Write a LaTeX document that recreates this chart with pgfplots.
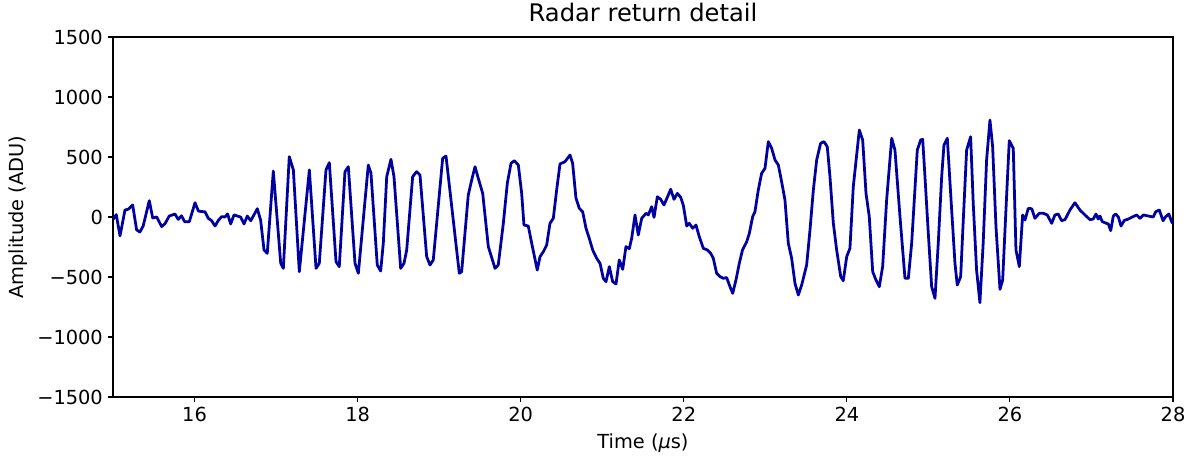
\documentclass[border=0pt]{standalone}
\usepackage{fontspec}
\setmainfont{DejaVu Sans}
\usepackage{pgfplots}
\pgfplotsset{compat=1.18}
\definecolor{sig}{RGB}{0,0,160}
\begin{document}
\begin{tikzpicture}[font=\fontsize{14}{17}\selectfont]
\useasboundingbox (0,0) rectangle (11.93in,4.56in);
\begin{axis}[
  at={(1.13in,0.59in)}, anchor=south west,
  width=10.60in, height=3.60in, scale only axis,
  xmin=15, xmax=28, ymin=-1500, ymax=1500,
  xtick={16,18,20,22,24,26,28},
  xticklabels={16,18,20,22,24,26,28},
  ytick={-1500,-1000,-500,0,500,1000,1500},
  yticklabels={−1500,−1000,−500,0,500,1000,1500},
  tick pos=left, tick align=outside,
  major tick length=0.049in,
  tick style={black, line width=0.8pt},
  axis line style={black, line width=0.8pt},
  xticklabel style={inner sep=0pt, yshift=-0.05in},
  yticklabel style={inner sep=0pt, xshift=-0.05in},
  title={Radar return detail},
  title style={at={(axis description cs:0.5,1.02)}, anchor=base, font=\fontsize{17.5}{20}\selectfont, inner sep=0pt},
  xlabel={Time (\textit{μ}s)},
  xlabel style={at={(axis description cs:0.5,-0.1417)}, anchor=base, inner sep=0pt},
  ylabel={Amplitude (ADU)},
  ylabel style={at={(axis description cs:-0.0896,0.5)}, anchor=center, inner sep=0pt},
]
\addplot[color=sig, line width=2pt, line join=round] coordinates {
(15.000,-20) (15.040,20) (15.086,-158) (15.147,58) (15.188,65) (15.241,100)
(15.290,-108) (15.330,-125) (15.370,-75) (15.445,136) (15.487,-8) (15.536,0)
(15.597,-80) (15.638,-55) (15.690,8) (15.760,25) (15.800,-20) (15.840,10)
(15.880,-40) (15.936,-39) (16.006,119) (16.047,50) (16.090,45) (16.128,44)
(16.169,-11) (16.210,-31) (16.251,-75) (16.292,-28) (16.333,3) (16.374,0)
(16.406,25) (16.443,-58) (16.484,17) (16.524,8) (16.566,0) (16.607,-58)
(16.647,8) (16.689,-31) (16.721,8) (16.770,69) (16.811,-28) (16.852,-275)
(16.892,-303) (16.966,383) (17.057,-386) (17.089,-428) (17.162,503) (17.212,392)
(17.285,-456) (17.408,392) (17.490,-428) (17.530,-386) (17.612,392) (17.653,453)
(17.735,-372) (17.775,-414) (17.845,378) (17.886,419) (17.968,-386) (18.009,-469)
(18.131,433) (18.164,364) (18.241,-400) (18.283,-450) (18.315,-219) (18.357,336)
(18.409,481) (18.446,336) (18.528,-428) (18.569,-386) (18.602,-275) (18.675,336)
(18.724,378) (18.765,350) (18.847,-331) (18.888,-400) (18.928,-358) (19.043,489)
(19.084,508) (19.247,-469) (19.276,-456) (19.357,183) (19.403,320) (19.440,419)
(19.480,322) (19.534,197) (19.603,-247) (19.685,-428) (19.725,-400) (19.787,-53)
(19.836,281) (19.881,447) (19.922,469) (19.971,433) (20.012,197) (20.040,-67)
(20.093,-75) (20.135,-219) (20.203,-442) (20.237,-331) (20.277,-290) (20.319,-233)
(20.359,-53) (20.400,-11) (20.441,225) (20.482,442) (20.543,461) (20.605,517)
(20.637,447) (20.678,156) (20.719,72) (20.760,44) (20.801,-94) (20.841,-178)
(20.883,-275) (20.932,-344) (20.973,-386) (21.013,-511) (21.046,-539) (21.087,-414)
(21.128,-539) (21.169,-558) (21.209,-358) (21.251,-436) (21.291,-247) (21.332,-264)
(21.361,-178) (21.402,17) (21.442,-150) (21.484,-11) (21.537,31) (21.565,17)
(21.607,86) (21.635,-3) (21.676,169) (21.717,147) (21.757,100) (21.798,164)
(21.840,231) (21.880,147) (21.921,197) (21.962,164) (21.994,100) (22.036,-75)
(22.068,-53) (22.110,-94) (22.150,-67) (22.190,-164) (22.240,-261) (22.289,-275)
(22.330,-303) (22.362,-344) (22.403,-469) (22.444,-497) (22.485,-511) (22.526,-505)
(22.567,-581) (22.600,-636) (22.640,-525) (22.681,-386) (22.720,-275) (22.772,-206)
(22.804,-136) (22.845,3) (22.873,44) (22.914,225) (22.955,364) (22.996,406)
(23.037,628) (23.078,572) (23.119,475) (23.160,433) (23.200,294) (23.241,142)
(23.282,-219) (23.323,-344) (23.364,-553) (23.405,-650) (23.446,-567) (23.507,-400)
(23.548,-108) (23.589,225) (23.630,475) (23.678,614) (23.719,628) (23.760,586)
(23.793,336) (23.834,-50) (23.875,-275) (23.925,-497) (23.956,-531) (23.998,-331)
(24.038,-261) (24.079,253) (24.153,725) (24.194,642) (24.235,197) (24.275,3)
(24.317,-456) (24.357,-525) (24.398,-581) (24.439,-414) (24.488,142) (24.550,656)
(24.590,558) (24.652,0) (24.713,-511) (24.754,-511) (24.795,-219) (24.864,558)
(24.905,642) (24.930,647) (24.958,336) (24.999,-136) (25.040,-581) (25.081,-678)
(25.121,-219) (25.163,336) (25.191,600) (25.232,656) (25.273,197) (25.326,-386)
(25.354,-567) (25.396,-497) (25.428,-25) (25.469,558) (25.518,669) (25.550,114)
(25.591,-442) (25.632,-714) (25.672,-219) (25.714,475) (25.755,808) (25.788,586)
(25.829,-81) (25.878,-603) (25.911,-525) (25.951,58) (25.992,636) (26.041,572)
(26.074,-275) (26.115,-414) (26.156,17) (26.185,-25) (26.225,72) (26.267,69)
(26.307,-11) (26.360,31) (26.409,31) (26.458,17) (26.512,-53) (26.552,17)
(26.593,25) (26.634,-31) (26.675,-22) (26.736,58) (26.797,119) (26.859,58)
(26.920,17) (26.982,-22) (27.022,-17) (27.055,25) (27.083,-17) (27.104,8)
(27.133,-39) (27.174,-50) (27.207,-58) (27.236,-114) (27.268,8) (27.297,25)
(27.330,0) (27.362,-75) (27.403,-28) (27.452,-17) (27.501,0) (27.555,17)
(27.595,-11) (27.636,17) (27.697,8) (27.758,0) (27.788,44) (27.832,58)
(27.878,-31) (27.907,0) (27.948,25) (27.988,-47) (28.000,-50)
};
\end{axis}
\end{tikzpicture}
\end{document}
